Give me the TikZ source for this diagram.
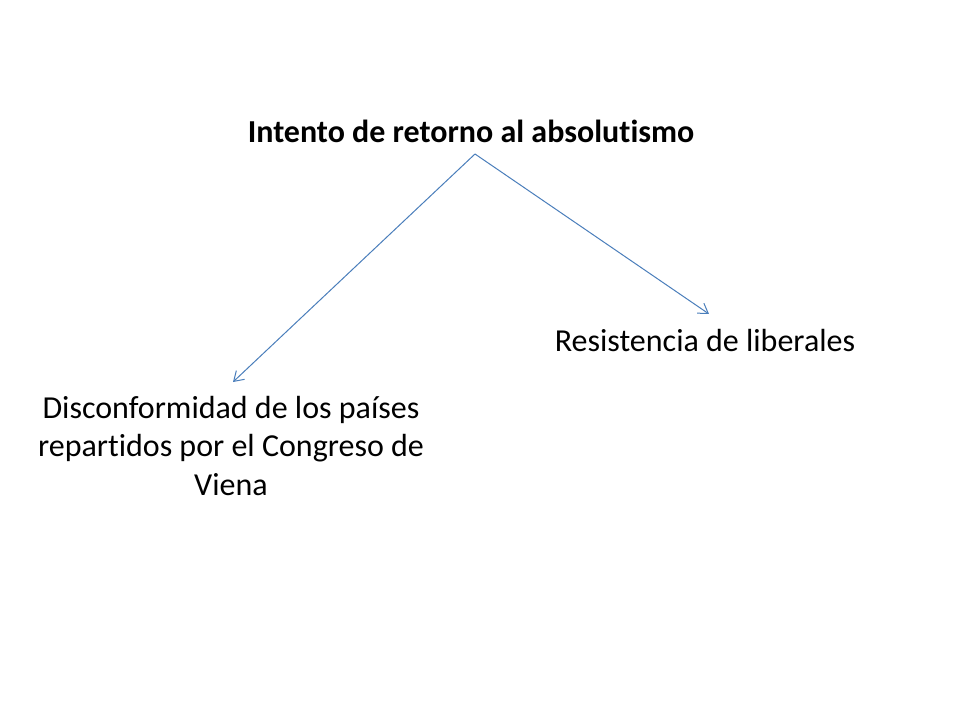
\documentclass[tikz,border=0pt]{standalone}
\usepackage{fontspec}
\setmainfont[Ligatures={NoCommon}]{Carlito}
\usetikzlibrary{arrows.meta}
\definecolor{linkblue}{HTML}{4A7EBB}
\begin{document}
\begin{tikzpicture}[x=0.75pt,y=-0.75pt,
  lbl/.style={font=\fontsize{24}{29}\selectfont, inner sep=0pt, align=center},
  link/.style={draw=linkblue, line width=0.75pt, -{Straight Barb[length=7pt,width=9pt]}}]
\useasboundingbox[fill=white] (0,0) rectangle (960,720);
\node[lbl, font=\fontsize{24}{29}\selectfont\bfseries] (top) at (471,131) {Intento de retorno al absolutismo};
\node[lbl] (res) at (705,341) {Resistencia de liberales};
\node[lbl] (dis) at (231,446) {Disconformidad de los países\\repartidos por el Congreso de\\Viena};
\coordinate (apex) at (475,154);
\coordinate (lend) at (233,382);
\coordinate (rend) at (709,314);
\draw[link] (apex) -- (lend);
\draw[link] (apex) -- (rend);
\end{tikzpicture}
\end{document}
